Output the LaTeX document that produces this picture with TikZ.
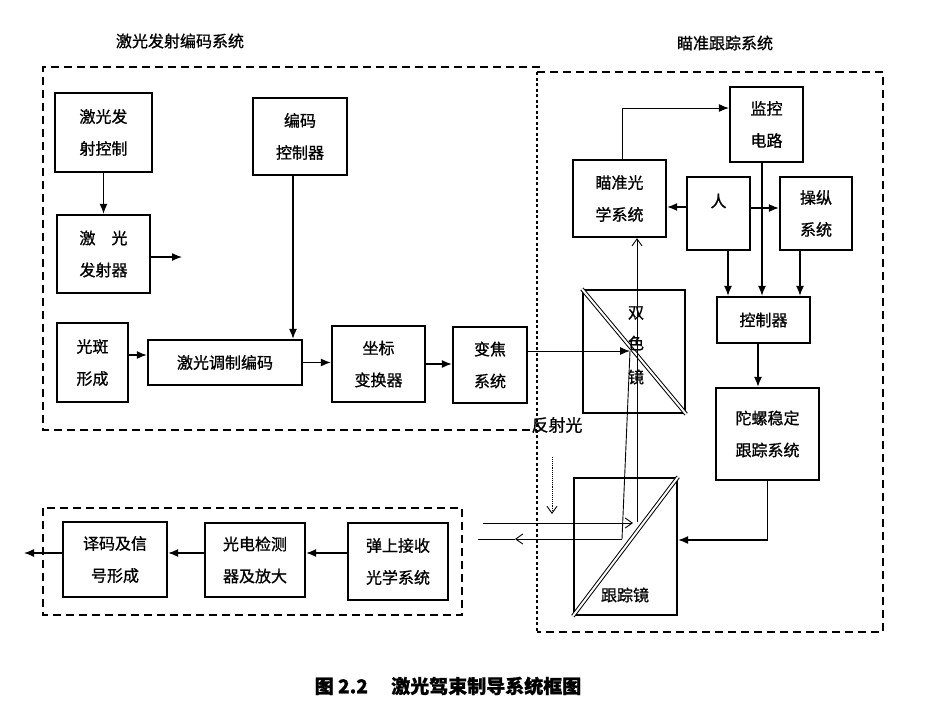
\documentclass[tikz,border=0pt]{standalone}
\usepackage{fontspec}
\setmainfont{Noto Sans CJK SC}[FakeBold=0.9]
\usetikzlibrary{arrows.meta}
\begin{document}
\begin{tikzpicture}[x=1pt,y=-1pt,
  box/.style={draw, line width=2.3pt, align=center, inner sep=0pt,
    font=\fontsize{16}{32}\selectfont},
  arr/.style={line width=1.3pt, -{Latex[length=10pt,width=8pt]}},
  openarr/.style={line width=0.9pt, -{Straight Barb[length=7pt,width=10pt]}},
  beam/.style={line width=0.9pt},
  dbox/.style={line width=1.6pt, dash pattern=on 8pt off 5pt},
  dotbox/.style={line width=1.5pt, dash pattern=on 3pt off 2.5pt},
  mirror/.style={line width=1pt, double, double distance=2pt},
  lab/.style={font=\fontsize{16}{20}\selectfont, inner sep=0pt}]
\fill[white] (0,0) rectangle (950,713);
\useasboundingbox (0,0) rectangle (950,713);

% titles
\node[lab] (t1) at (180,41) {激光发射编码系统};
\node[lab] (t2) at (725,43) {瞄准跟踪系统};

% dashed enclosures
\draw[dbox] (540,67) -- (43,67) -- (43,430) -- (537,430);
\draw[dbox] (537,72) -- (883,72) -- (883,632) -- (537,632);
\draw[dotbox] (537,72) -- (537,632);
\draw[dbox] (43,508) rectangle (462,615);

% left system boxes
\node[box, minimum width=97pt, minimum height=79pt] (fsctl) at (103.5,132.5) {激光发\\射控制};
\node[box, minimum width=94pt, minimum height=77pt] (bmctl) at (300,136.5) {编码\\控制器};
\node[box, minimum width=93pt, minimum height=78pt] (fsq) at (103.5,254) {激\quad 光\\发射器};
\node[box, minimum width=71pt, minimum height=79pt] (gb) at (92.5,362.5) {光斑\\形成};
\node[box, minimum width=154pt, minimum height=45pt] (tz) at (225,362.5) {激光调制编码};
\node[box, minimum width=93pt, minimum height=76pt] (zb) at (378.5,364) {坐标\\变换器};
\node[box, minimum width=74pt, minimum height=76pt] (bj) at (490,365) {变焦\\系统};

% right system boxes
\node[box, minimum width=73pt, minimum height=75pt] (jk) at (766.5,124.5) {监控\\电路};
\node[box, minimum width=93pt, minimum height=77pt] (mz) at (619.5,198.5) {瞄准光\\学系统};
\node[box, minimum width=63pt, minimum height=73pt] (ren) at (718.5,213.5) {};
\node[lab] (rent) at (718.5,201) {人};
\node[box, minimum width=72pt, minimum height=73pt] (cz) at (816,213.5) {操纵\\系统};
\node[box, minimum width=93pt, minimum height=46pt] (kz) at (763.5,320) {控制器};
\node[box, minimum width=103pt, minimum height=92pt] (tl) at (767.5,434) {陀螺稳定\\跟踪系统};

% mirrors
\node[box, minimum width=102pt, minimum height=123pt] (ss) at (634,351.5) {};
\draw[mirror] (ss.north west) -- (ss.south east);
\node[lab] (ss1) at (636,313) {双};
\node[lab] (ss2) at (636,343) {色};
\node[lab] (ss3) at (636,377) {镜};
\node[box, minimum width=103pt, minimum height=137pt] (gz) at (625.5,546.5) {};
\draw[mirror] (gz.south west) -- (gz.north east);
\node[lab] (gzt) at (625,595) {跟踪镜};

% bottom receiver chain
\node[box, minimum width=104pt, minimum height=75pt] (ym) at (115,559.5) {译码及信\\号形成};
\node[box, minimum width=100pt, minimum height=74pt] (gd) at (255,560) {光电检测\\器及放大};
\node[box, minimum width=100pt, minimum height=77pt] (ds) at (398,561.5) {弹上接收\\光学系统};

% left system connectors
\draw[arr] (fsctl) -- (fsq);
\coordinate (fsqout) at (182,257);
\draw[arr] (fsq.east |- fsqout) -- (fsqout);
\draw[arr] ([xshift=-7pt]bmctl.south) -- ([xshift=-7pt]bmctl.south |- tz.north);
\draw[arr] ([yshift=7.5pt]gb.east) -- ([yshift=7.5pt]gb.east -| tz.west);
\draw[arr] (tz.east) -- (tz.east -| zb.west);
\draw[arr] (zb.east) -- (zb.east -| bj.west);

% beams
\coordinate (hit1) at (630,351);
\coordinate (lowhit) at (622,539);
\coordinate (upbot) at (637,522);
\coordinate (inL) at (483,523);
\coordinate (inR) at (633,523);
\coordinate (outtip) at (515,539);
\coordinate (outL) at (478,539);
\draw[arr, line width=1pt] (bj.east |- hit1) -- (hit1);
\draw[beam] (hit1) -- (lowhit);
\draw[openarr] (upbot) -- (upbot |- mz.south);
\draw[openarr] (inL) -- (inR);
\draw[openarr] (lowhit) -- (outtip);
\draw[beam] (outtip) -- (outL);
\coordinate (rf1) at (552,457);
\coordinate (rf2) at (552,514);
\draw[openarr, densely dotted] (rf1) -- (rf2);
\node[lab, font=\fontsize{17}{20}\selectfont] (rft) at (557,425) {反射光};

% right system connectors
\draw[arr, line width=1pt] ([xshift=2.5pt]mz.north) |- ([yshift=16.5pt]jk.west);
\draw[arr] ([yshift=6.5pt]ren.west) -- ([yshift=6.5pt]ren.west -| mz.east);
\draw[arr] ([yshift=5.5pt]ren.east) -- ([yshift=5.5pt]ren.east -| cz.west);
\draw[arr] ([xshift=9.5pt]ren.south) -- ([xshift=9.5pt]ren.south |- kz.north);
\draw[arr] ([xshift=-4.5pt]jk.south) -- ([xshift=-4.5pt]jk.south |- kz.north);
\draw[arr] ([xshift=-16pt]cz.south) -- ([xshift=-16pt]cz.south |- kz.north);
\draw[arr] ([xshift=-5.5pt]kz.south) -- ([xshift=-5.5pt]kz.south |- tl.north);
\draw[arr] (tl.south) |- ([yshift=6.5pt]gz.east);

% bottom connectors
\coordinate (ymout) at (24,553);
\draw[arr] ([yshift=8.5pt]ds.west) -- ([yshift=8.5pt]ds.west -| gd.east);
\draw[arr] (gd.west |- ymout) -- (gd.west |- ymout -| ym.east);
\draw[arr] (ym.west |- ymout) -- (ymout);

% caption
\node[font=\fontsize{19}{22}\selectfont\bfseries, inner sep=0pt] (cap) at (448,686) {图 2.2\quad\ 激光驾束制导系统框图};
\end{tikzpicture}
\end{document}
